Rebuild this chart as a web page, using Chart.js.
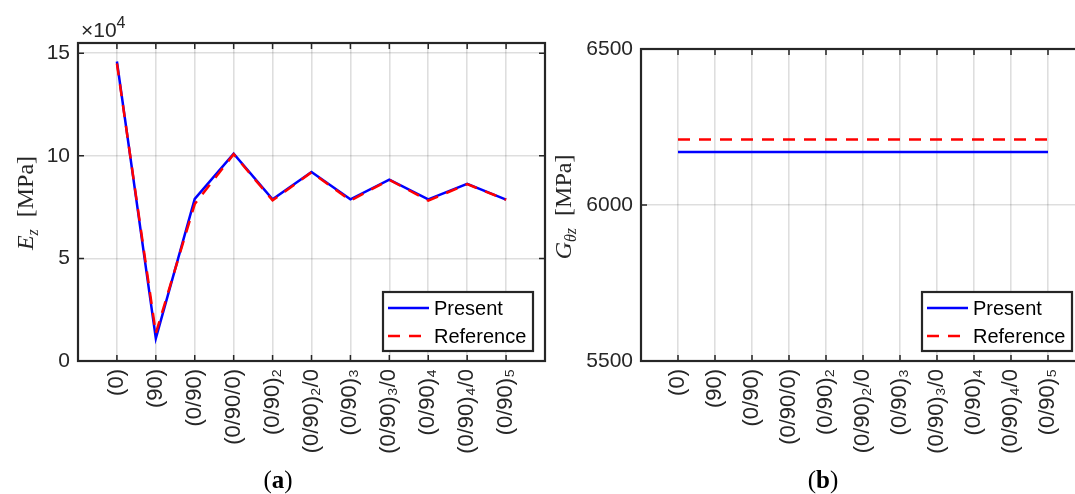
<!DOCTYPE html>
<html>
<head>
<meta charset="utf-8">
<script src="https://cdn.jsdelivr.net/npm/chart.js@4.4.1/dist/chart.umd.min.js"></script>
<style>
html, body { margin: 0; padding: 0; background: #fff; overflow: hidden; width: 1075px; height: 494px; }
.painel { position: absolute; top: 0; height: 494px; }
#painelA { left: 0; width: 560px; }
#painelB { left: 540px; width: 560px; }
</style>
</head>
<body>
<div class="painel" id="painelA"><canvas id="graficoEz"></canvas></div>
<div class="painel" id="painelB"><canvas id="graficoG"></canvas></div>
<script>
// dados
var layups = ['(0)', '(90)', '(0/90)', '(0/90/0)', '(0/90)₂', '(0/90)₂/0', '(0/90)₃', '(0/90)₃/0', '(0/90)₄', '(0/90)₄/0', '(0/90)₅'];
var ezPresent = [146000, 11000, 79000, 101000, 78800, 92100, 78800, 88400, 78800, 86300, 78700];
var ezReference = [145000, 13500, 76500, 100800, 78300, 92000, 78200, 88300, 78200, 86200, 78600];
var gPresent = [6170, 6170, 6170, 6170, 6170, 6170, 6170, 6170, 6170, 6170, 6170];
var gReference = [6210, 6210, 6210, 6210, 6210, 6210, 6210, 6210, 6210, 6210, 6210];
var ezTicks = [0, 50000, 100000, 150000];
var gTicks = [5500, 6000, 6500];

var corEixo = '#262626';
var fonteSans = "'Liberation Sans', Arial, sans-serif";
var fonteSerif = "'Liberation Serif', 'Times New Roman', serif";

function pontos(valores) {
    return valores.map(function (v, i) { return { x: i + 1, y: v }; });
}

function serie(label, valores, cor, tracejado, ordem) {
    return {
        label: label,
        data: pontos(valores),
        borderColor: cor,
        backgroundColor: cor,
        borderWidth: 2.5,
        borderDash: tracejado,
        pointRadius: 0,
        tension: 0,
        fill: false,
        order: ordem
    };
}

// desenha texto com partes de fontes diferentes (sub/sobrescritos)
function textoComposto(ctx, partes, x, y, alinhamento) {
    var total = 0;
    partes.forEach(function (p) { ctx.font = p.font; total += ctx.measureText(p.t).width; });
    var cx = alinhamento === 'center' ? x - total / 2 : x;
    ctx.textAlign = 'left';
    ctx.textBaseline = 'alphabetic';
    partes.forEach(function (p) {
        ctx.font = p.font;
        ctx.fillText(p.t, cx, y + (p.dy || 0));
        cx += ctx.measureText(p.t).width;
    });
}

var pluginMoldura = {
    id: 'moldura',
    afterDatasetsDraw: function (chart) {
        var ctx = chart.ctx, a = chart.chartArea;
        var sx = chart.scales.x, sy = chart.scales.y;
        ctx.save();
        ctx.strokeStyle = corEixo;
        ctx.lineWidth = 1.5;
        ctx.beginPath();
        sx.ticks.forEach(function (t) {
            var px = sx.getPixelForValue(t.value);
            ctx.moveTo(px, a.bottom); ctx.lineTo(px, a.bottom - 6);
            ctx.moveTo(px, a.top); ctx.lineTo(px, a.top + 6);
        });
        sy.ticks.forEach(function (t) {
            var py = sy.getPixelForValue(t.value);
            ctx.moveTo(a.left, py); ctx.lineTo(a.left + 6, py);
            ctx.moveTo(a.right, py); ctx.lineTo(a.right - 6, py);
        });
        ctx.stroke();
        ctx.lineWidth = 2.2;
        ctx.strokeRect(a.left, a.top, a.right - a.left, a.bottom - a.top);
        ctx.restore();
    },
    afterDraw: function (chart, args, opts) {
        var ctx = chart.ctx, a = chart.chartArea;
        ctx.save();
        // legenda
        var w = 150, h = 59;
        var bx = a.right - opts.legendaDireita - w, by = a.bottom - 10 - h;
        ctx.fillStyle = '#fff';
        ctx.fillRect(bx, by, w, h);
        ctx.strokeStyle = corEixo;
        ctx.lineWidth = 2.2;
        ctx.strokeRect(bx, by, w, h);
        chart.data.datasets.forEach(function (ds, i) {
            var ly = by + 16 + i * 28;
            ctx.strokeStyle = ds.borderColor;
            ctx.lineWidth = 2.5;
            ctx.setLineDash(ds.borderDash || []);
            ctx.beginPath();
            ctx.moveTo(bx + 5, ly); ctx.lineTo(bx + 46, ly);
            ctx.stroke();
            ctx.setLineDash([]);
            ctx.fillStyle = '#000';
            ctx.font = '20px ' + fonteSans;
            ctx.textAlign = 'left';
            ctx.textBaseline = 'middle';
            ctx.fillText(ds.label, bx + 51, ly + 1);
        });
        // titulo do eixo y (rotacionado)
        ctx.fillStyle = corEixo;
        ctx.save();
        ctx.translate(opts.tituloX, opts.tituloY);
        ctx.rotate(-Math.PI / 2);
        textoComposto(ctx, opts.tituloY_partes, 0, 0, 'center');
        ctx.restore();
        // fator x10^4
        if (opts.fator) {
            textoComposto(ctx, [
                { t: '×10', font: '21px ' + fonteSans },
                { t: '4', font: '16px ' + fonteSans, dy: -9 }
            ], a.left + 3, a.top - 6, 'left');
        }
        // legenda da subfigura
        ctx.fillStyle = '#000';
        textoComposto(ctx, [
            { t: '(', font: '25px ' + fonteSerif },
            { t: opts.letra, font: 'bold 25px ' + fonteSerif },
            { t: ')', font: '25px ' + fonteSerif }
        ], opts.letraX, 488, 'center');
        ctx.restore();
    }
};

function opcoes(ticksY, minY, maxY, formatoY, padTop, padRight, largY, extras) {
    return {
        responsive: true,
        maintainAspectRatio: false,
        animation: false,
        layout: { padding: { left: 0, top: padTop, right: padRight, bottom: 0 } },
        scales: {
            x: {
                type: 'linear',
                min: 0,
                max: 12,
                afterBuildTicks: function (s) { s.ticks = layups.map(function (c, i) { return { value: i + 1 }; }); },
                afterFit: function (s) { s.height = 133; },
                border: { display: false },
                grid: { color: 'rgba(0,0,0,0.13)', lineWidth: 1.6, drawTicks: false },
                ticks: {
                    autoSkip: false,
                    minRotation: 90,
                    maxRotation: 90,
                    padding: 8,
                    color: corEixo,
                    font: { family: fonteSans, size: 22 },
                    callback: function (v) { return layups[v - 1]; }
                }
            },
            y: {
                min: minY,
                max: maxY,
                afterBuildTicks: function (s) { s.ticks = ticksY.map(function (v) { return { value: v }; }); },
                afterFit: function (s) { s.width = largY; },
                border: { display: false },
                grid: { color: 'rgba(0,0,0,0.13)', lineWidth: 1.6, drawTicks: false },
                ticks: {
                    padding: 8,
                    color: corEixo,
                    font: { family: fonteSans, size: 21 },
                    callback: formatoY
                }
            }
        },
        plugins: {
            legend: { display: false },
            tooltip: { enabled: false },
            moldura: extras
        }
    };
}

Chart.register(pluginMoldura);

var graficoEz = new Chart(document.getElementById('graficoEz').getContext('2d'), {
    type: 'line',
    data: {
        datasets: [
            serie('Present', ezPresent, '#0000ff', [], 1),
            serie('Reference', ezReference, '#ff0000', [12, 9], 0)
        ]
    },
    options: opcoes(ezTicks, 0, 155000, function (v) { return String(v / 10000); }, 43, 15, 78, {
        legendaDireita: 12,
        tituloX: 33,
        tituloY: 203,
        tituloY_partes: [
            { t: 'E', font: 'italic 24px ' + fonteSerif },
            { t: 'z', font: 'italic 16px ' + fonteSerif, dy: 5 },
            { t: '  [MPa]', font: '24px ' + fonteSerif }
        ],
        fator: true,
        letra: 'a',
        letraX: 278
    })
});

var graficoG = new Chart(document.getElementById('graficoG').getContext('2d'), {
    type: 'line',
    data: {
        datasets: [
            serie('Present', gPresent, '#0000ff', [], 1),
            serie('Reference', gReference, '#ff0000', [12, 9], 0)
        ]
    },
    options: opcoes(gTicks, 5500, 6500, function (v) { return String(v); }, 49, 15, 101, {
        legendaDireita: 13,
        tituloX: 31,
        tituloY: 207,
        tituloY_partes: [
            { t: 'G', font: 'italic 24px ' + fonteSerif },
            { t: 'θz', font: 'italic 16px ' + fonteSerif, dy: 5 },
            { t: '  [MPa]', font: '24px ' + fonteSerif }
        ],
        fator: false,
        letra: 'b',
        letraX: 283
    })
});
</script>
</body>
</html>
